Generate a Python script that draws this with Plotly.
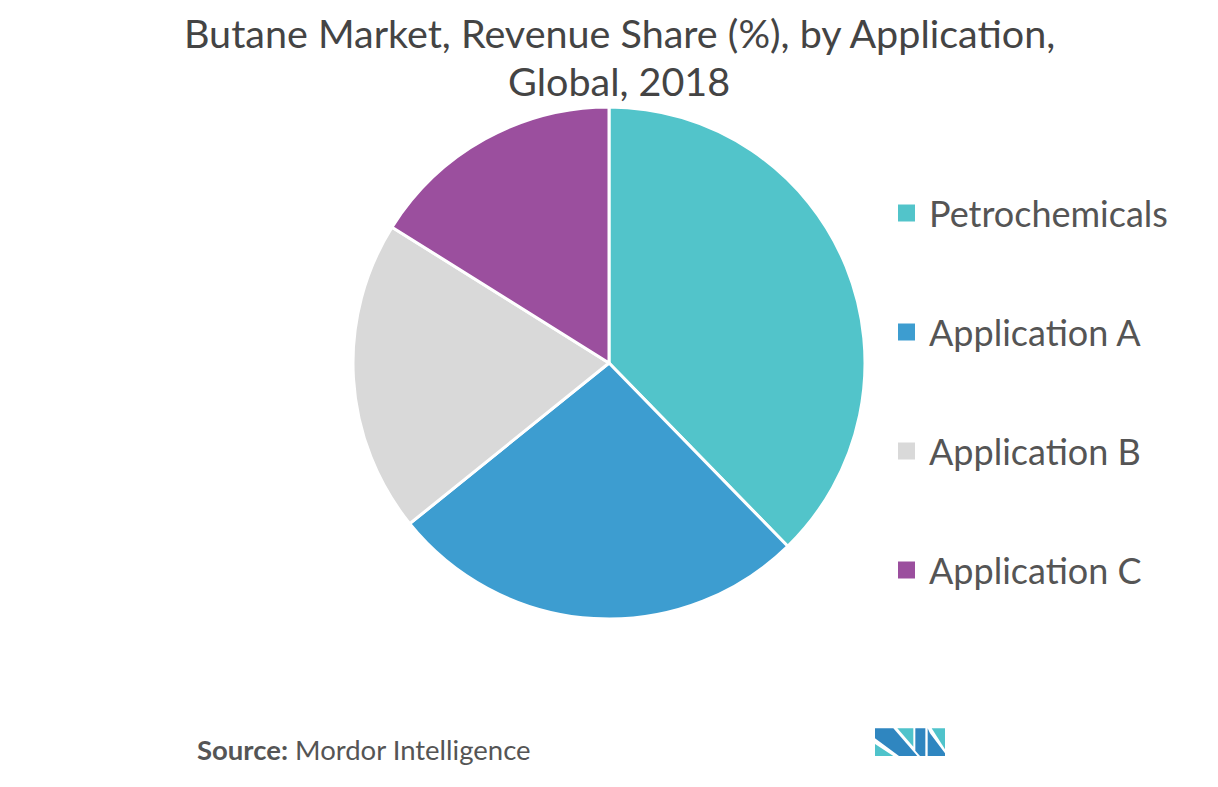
import plotly.graph_objects as go

# ---- data ----
labels = ["Petrochemicals", "Application A", "Application B", "Application C"]
shares = [37.7, 26.5, 19.7, 16.1]
colors = ["#52C4CA", "#3D9DD0", "#D9D9D9", "#9B4F9E"]

title_lines = ["Butane Market, Revenue Share (%), by Application,", "Global, 2018"]
source_label = "Source:"
source_name = "Mordor Intelligence"

W, H = 1218, 787
OFF = 8  # page body margin

def px(x):
    return (x - OFF) / W

def py(y):
    return 1 - (y - OFF) / H

fig = go.Figure()
fig.add_trace(go.Pie(
    labels=labels,
    values=shares,
    sort=False,
    direction="clockwise",
    rotation=0,
    marker=dict(colors=colors, line=dict(color="white", width=3)),
    textinfo="none",
    hoverinfo="label+percent",
    showlegend=False,
    domain=dict(x=[px(609 - 256), px(609 + 256)], y=[py(619), py(107)]),
))

annotations = []
shapes = []

# title
for i, line in enumerate(title_lines):
    annotations.append(dict(
        text=line, x=px(619), y=py(33 + 47 * i), xref="paper", yref="paper",
        xanchor="center", yanchor="middle", showarrow=False,
        font=dict(family="Lato", size=39.5, color="#444444"),
    ))

# legend
for i, (lab, col) in enumerate(zip(labels, colors)):
    yc = 213 + 119 * i
    shapes.append(dict(type="rect", xref="paper", yref="paper",
                       x0=px(898), x1=px(915), y0=py(yc + 8.5), y1=py(yc - 8.5),
                       fillcolor=col, line=dict(width=0)))
    annotations.append(dict(
        text=lab, x=px(927), y=py(yc), xref="paper", yref="paper",
        xanchor="left", yanchor="middle", showarrow=False,
        font=dict(family="Lato", size=36, color="#555555"),
    ))

# source
annotations.append(dict(
    text=f"<b>{source_label}</b> {source_name}", x=px(195), y=py(749),
    xref="paper", yref="paper", xanchor="left", yanchor="middle", showarrow=False,
    font=dict(family="Lato", size=27.5, color="#555555"),
))

# logo (decorative)
def logo_path(pts):
    return "M " + " L ".join(f"{px(860 + X / 3):.5f},{py(720 + Y / 3):.5f}" for X, Y in pts) + " Z"

dark = "#2F86C0"
teal = "#4FC3CB"
logo_parts = [
    ([(45, 72), (45, 108), (100, 108)], teal),
    ([(45, 25), (100, 25), (172, 108), (117, 108), (45, 55)], dark),
    ([(112, 25), (160, 25), (160, 80)], teal),
    ([(166, 25), (196, 25), (196, 108), (180, 108), (166, 92)], dark),
    ([(203, 25), (203, 108), (255, 108), (255, 100), (210, 40)], dark),
    ([(215, 25), (255, 25), (255, 88)], teal),
]
for pts, col in logo_parts:
    shapes.append(dict(type="path", xref="paper", yref="paper", path=logo_path(pts),
                       fillcolor=col, line=dict(width=0)))

fig.update_layout(
    width=W, height=H,
    margin=dict(l=0, r=0, t=0, b=0),
    paper_bgcolor="white", plot_bgcolor="white",
    annotations=annotations, shapes=shapes,
    showlegend=False,
)

fig.write_html("out.html")
